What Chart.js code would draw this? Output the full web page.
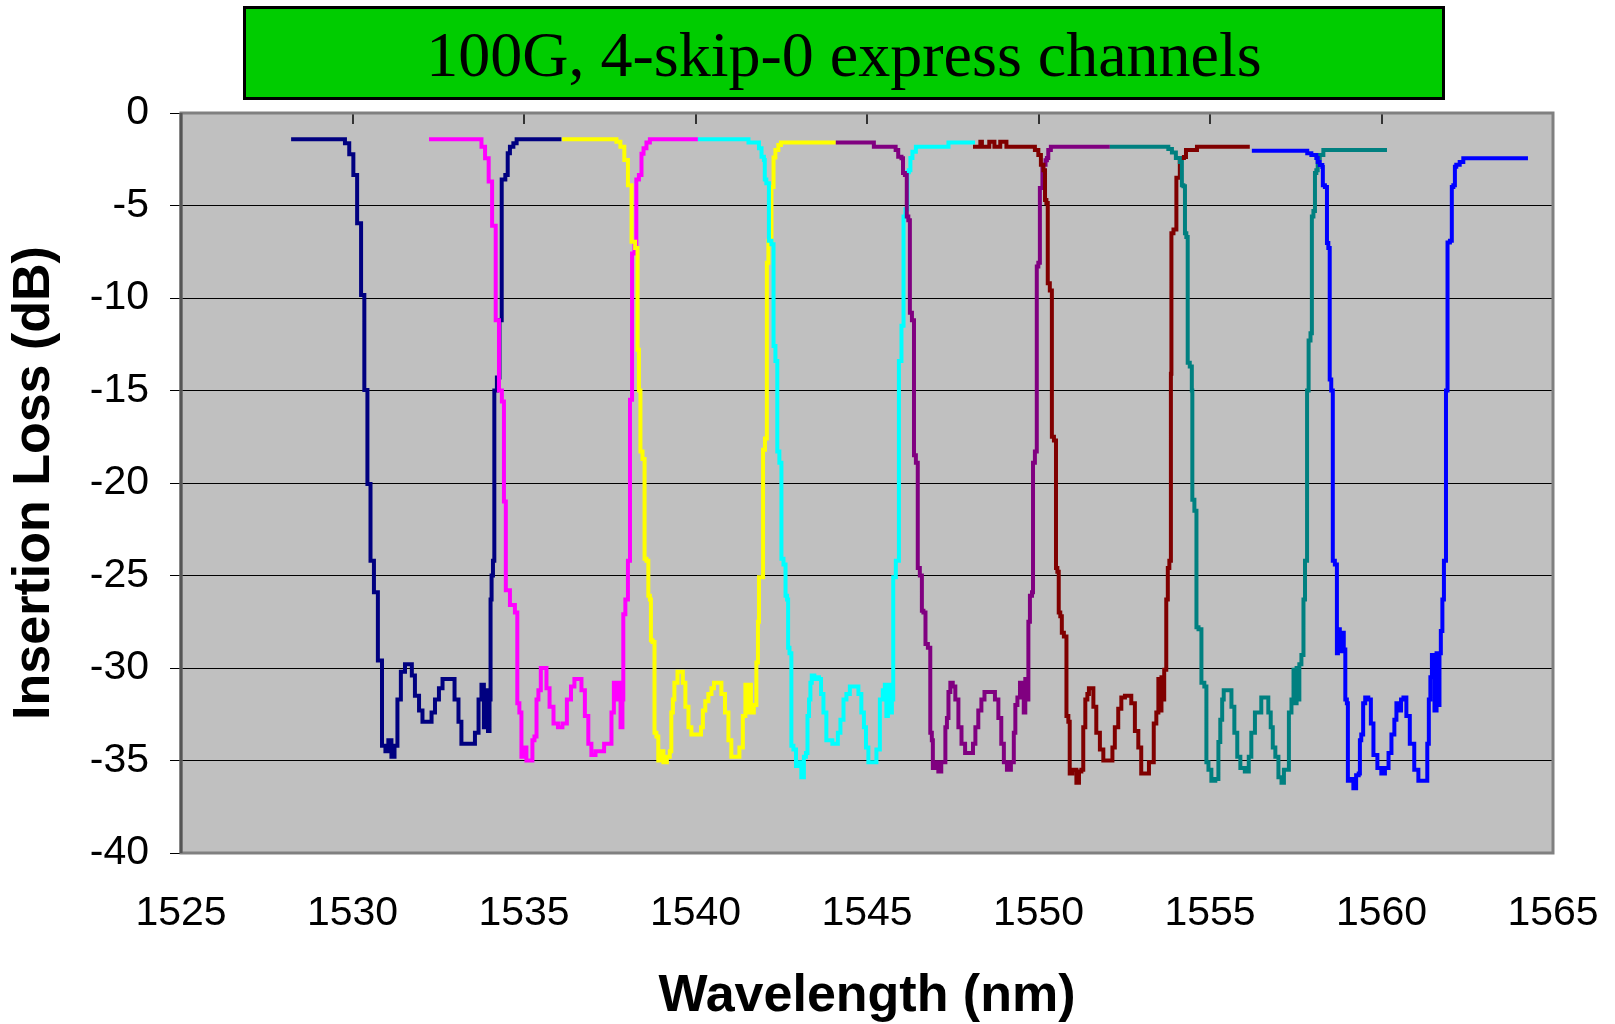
<!DOCTYPE html>
<html>
<head>
<meta charset="utf-8">
<script src="https://cdn.jsdelivr.net/npm/chart.js@4.4.1/dist/chart.umd.min.js"></script>
<style>
  body { margin: 0; background: #fff; }
  #wrap { position: relative; width: 1615px; height: 1024px; }
  #title {
    position: absolute; left: 243px; top: 6px; width: 1202px; height: 94px;
    box-sizing: border-box; border: 3px solid #000; background: #00cc00;
    font-family: "Liberation Serif", "Times New Roman", serif; font-size: 64px;
    display: flex; align-items: center; justify-content: center; padding-top: 4px;
    color: #000;
  }
</style>
</head>
<body>
<div id="wrap">
  <canvas id="chart" width="1615" height="1024"></canvas>
  <div id="title">100G, 4-skip-0 express channels</div>
</div>
<script>
// wavelength (nm), insertion loss (dB)
const navy = [
  [1528.21,-1.42],[1529.73,-1.42],[1529.83,-1.64],[1529.98,-2.23],[1530.07,-3.35],[1530.20,-5.96],
  [1530.30,-9.84],[1530.39,-14.97],[1530.48,-20.05],[1530.57,-24.2],[1530.68,-25.9],[1530.80,-29.6],
  [1530.92,-34.2],[1531.00,-34.5],[1531.09,-33.9],[1531.18,-34.8],[1531.27,-34.2],[1531.35,-31.7],
  [1531.47,-30.2],[1531.59,-29.8],[1531.70,-29.8],[1531.76,-30.4],[1531.88,-31.5],[1532.00,-32.3],
  [1532.08,-32.9],[1532.26,-32.9],[1532.35,-32.4],[1532.46,-31.7],[1532.58,-31.1],[1532.67,-30.6],
  [1532.90,-30.6],[1533.05,-31.7],[1533.13,-32.9],[1533.22,-34.1],[1533.51,-34.1],[1533.63,-33.5],
  [1533.72,-31.7],[1533.80,-30.9],[1533.86,-33.2],[1533.92,-31.2],[1533.98,-33.4],[1534.01,-31.7],
  [1534.04,-26.3],[1534.07,-25.0],[1534.12,-24.2],[1534.15,-15.0],[1534.27,-14.3],[1534.30,-11.2],
  [1534.40,-3.6],[1534.51,-3.35],[1534.54,-2.18],[1534.64,-1.82],[1534.74,-1.64],[1534.83,-1.42],
  [1536.09,-1.42]
];
const magenta = [
  [1532.23,-1.42],[1533.72,-1.42],[1533.80,-1.82],[1533.93,-2.45],[1534.01,-3.7],[1534.13,-6.1],
  [1534.22,-11.2],[1534.32,-15.0],[1534.39,-15.6],[1534.44,-21.0],[1534.50,-25.8],[1534.68,-26.6],
  [1534.79,-27.0],[1534.82,-31.9],[1534.91,-32.4],[1534.94,-34.8],[1535.03,-34.3],[1535.11,-35.0],
  [1535.23,-35.0],[1535.26,-33.9],[1535.35,-33.7],[1535.38,-31.7],[1535.46,-31.2],[1535.52,-30.0],
  [1535.61,-30.0],[1535.70,-31.1],[1535.79,-32.1],[1535.93,-33.0],[1536.05,-33.2],[1536.19,-33.0],
  [1536.31,-31.7],[1536.43,-31.0],[1536.51,-30.6],[1536.63,-30.6],[1536.72,-31.2],[1536.83,-32.6],
  [1536.92,-34.1],[1537.01,-34.7],[1537.16,-34.5],[1537.51,-34.1],[1537.59,-32.4],[1537.65,-30.8],
  [1537.71,-31.7],[1537.77,-30.8],[1537.86,-33.2],[1537.88,-31.7],[1537.91,-27.1],[1538.00,-26.3],
  [1538.06,-24.2],[1538.12,-15.5],[1538.18,-7.6],[1538.26,-7.1],[1538.29,-3.6],[1538.41,-3.35],
  [1538.44,-2.2],[1538.53,-1.9],[1538.61,-1.6],[1538.73,-1.42],[1540.07,-1.42]
];
const yellow = [
  [1536.11,-1.42],[1537.65,-1.42],[1537.74,-1.55],[1537.88,-1.82],[1537.97,-2.54],[1538.09,-3.9],
  [1538.18,-6.96],[1538.30,-7.3],[1538.32,-12.8],[1538.38,-15.0],[1538.41,-18.3],[1538.50,-18.7],
  [1538.53,-24.1],[1538.61,-24.2],[1538.64,-26.1],[1538.70,-26.3],[1538.70,-28.5],[1538.79,-28.6],
  [1538.82,-33.5],[1538.90,-33.7],[1538.93,-35.0],[1539.02,-34.5],[1539.11,-35.1],[1539.22,-34.8],
  [1539.28,-34.5],[1539.31,-32.4],[1539.37,-31.7],[1539.40,-30.8],[1539.46,-30.8],[1539.49,-30.2],
  [1539.60,-30.2],[1539.66,-30.8],[1539.75,-32.1],[1539.84,-33.2],[1539.92,-33.6],[1540.13,-33.6],
  [1540.19,-33.2],[1540.24,-32.3],[1540.33,-31.8],[1540.42,-31.4],[1540.51,-31.1],[1540.57,-30.8],
  [1540.71,-30.8],[1540.80,-31.4],[1540.92,-32.4],[1541.00,-33.9],[1541.09,-34.8],[1541.24,-34.8],
  [1541.32,-34.3],[1541.44,-32.6],[1541.47,-30.9],[1541.53,-32.4],[1541.59,-30.9],[1541.64,-32.4],
  [1541.76,-32.0],[1541.79,-29.7],[1541.85,-27.5],[1541.85,-25.1],[1541.97,-25.1],[1541.97,-18.2],
  [1542.08,-17.6],[1542.08,-8.1],[1542.17,-6.9],[1542.26,-4.0],[1542.29,-2.4],[1542.37,-2.0],
  [1542.46,-1.73],[1542.52,-1.6],[1544.09,-1.6]
];
const cyan = [
  [1540.07,-1.42],[1541.50,-1.42],[1541.59,-1.6],[1541.82,-1.6],[1541.88,-1.9],[1541.97,-2.36],
  [1542.02,-2.54],[1542.02,-3.6],[1542.11,-3.8],[1542.17,-6.9],[1542.26,-7.1],[1542.29,-12.6],
  [1542.37,-13.4],[1542.40,-18.3],[1542.49,-18.9],[1542.52,-24.1],[1542.61,-24.4],[1542.64,-26.1],
  [1542.70,-26.3],[1542.70,-28.9],[1542.78,-29.2],[1542.81,-34.2],[1542.90,-34.4],[1542.96,-35.3],
  [1543.04,-35.1],[1543.13,-35.9],[1543.19,-34.8],[1543.25,-34.6],[1543.28,-32.6],[1543.34,-31.7],
  [1543.36,-30.8],[1543.42,-30.4],[1543.51,-30.6],[1543.57,-30.5],[1543.63,-30.6],[1543.69,-31.4],
  [1543.77,-32.4],[1543.86,-33.9],[1544.12,-34.1],[1544.18,-33.5],[1544.27,-32.8],[1544.36,-31.7],
  [1544.44,-31.4],[1544.56,-31.0],[1544.71,-31.0],[1544.79,-31.4],[1544.88,-32.4],[1544.94,-33.2],
  [1545.00,-34.3],[1545.08,-35.1],[1545.23,-35.1],[1545.32,-34.4],[1545.43,-31.7],[1545.49,-31.2],
  [1545.55,-30.9],[1545.58,-32.6],[1545.64,-30.9],[1545.70,-32.4],[1545.75,-31.7],[1545.78,-25.1],
  [1545.90,-24.2],[1545.96,-13.4],[1546.05,-11.5],[1546.08,-5.6],[1546.16,-5.2],[1546.19,-3.2],
  [1546.25,-3.1],[1546.28,-2.43],[1546.37,-2.1],[1546.48,-1.82],[1547.36,-1.82],[1547.39,-1.6],
  [1548.15,-1.6]
];
const purple = [
  [1544.09,-1.6],[1545.17,-1.6],[1545.23,-1.82],[1545.81,-1.82],[1545.86,-2.0],[1545.96,-2.36],
  [1546.05,-2.45],[1546.05,-3.24],[1546.16,-3.35],[1546.16,-5.6],[1546.25,-5.8],[1546.25,-10.8],
  [1546.37,-11.2],[1546.37,-18.5],[1546.48,-18.9],[1546.48,-24.6],[1546.60,-25.0],[1546.60,-26.9],
  [1546.69,-27.0],[1546.72,-28.7],[1546.83,-28.9],[1546.86,-33.5],[1546.92,-33.9],[1546.92,-35.4],
  [1547.04,-35.1],[1547.12,-35.6],[1547.21,-35.1],[1547.27,-35.1],[1547.30,-33.2],[1547.36,-32.7],
  [1547.39,-31.3],[1547.47,-30.8],[1547.53,-31.0],[1547.62,-31.7],[1547.71,-33.2],[1547.80,-34.1],
  [1547.92,-34.6],[1548.06,-34.6],[1548.12,-34.1],[1548.20,-33.2],[1548.29,-32.3],[1548.38,-31.7],
  [1548.47,-31.3],[1548.67,-31.3],[1548.79,-31.7],[1548.87,-32.7],[1548.96,-34.1],[1549.02,-35.1],
  [1549.14,-35.5],[1549.25,-35.1],[1549.31,-33.5],[1549.34,-32.0],[1549.43,-31.6],[1549.49,-30.8],
  [1549.54,-31.2],[1549.60,-32.4],[1549.63,-30.6],[1549.69,-31.7],[1549.72,-27.5],[1549.78,-26.1],
  [1549.84,-25.9],[1549.84,-18.9],[1549.95,-18.3],[1549.95,-8.3],[1550.04,-8.1],[1550.04,-4.05],
  [1550.19,-2.8],[1550.22,-2.55],[1550.27,-2.43],[1550.30,-2.0],[1550.42,-1.82],[1552.08,-1.82]
];
const darkRed = [
  [1548.09,-1.82],[1548.29,-1.82],[1548.32,-1.55],[1548.38,-1.82],[1548.55,-1.82],[1548.58,-1.55],
  [1548.70,-1.55],[1548.73,-1.82],[1548.87,-1.82],[1548.90,-1.55],[1549.05,-1.55],[1549.08,-1.82],
  [1549.84,-1.82],[1549.95,-2.0],[1550.04,-2.27],[1550.10,-2.8],[1550.19,-3.1],[1550.19,-4.7],
  [1550.27,-4.86],[1550.27,-9.2],[1550.39,-9.6],[1550.39,-17.5],[1550.51,-17.7],[1550.51,-24.6],
  [1550.59,-24.8],[1550.59,-27.0],[1550.68,-27.2],[1550.68,-28.1],[1550.80,-28.3],[1550.83,-32.6],
  [1550.91,-32.9],[1550.91,-35.7],[1551.06,-35.5],[1551.15,-36.2],[1551.21,-35.6],[1551.29,-35.5],
  [1551.32,-33.2],[1551.41,-31.7],[1551.44,-31.4],[1551.50,-31.1],[1551.56,-31.1],[1551.64,-32.1],
  [1551.73,-33.5],[1551.85,-34.4],[1551.93,-35.0],[1552.14,-35.0],[1552.17,-34.3],[1552.28,-33.2],
  [1552.37,-32.2],[1552.46,-31.6],[1552.58,-31.5],[1552.66,-31.5],[1552.75,-31.9],[1552.87,-33.4],
  [1552.95,-34.3],[1553.04,-35.7],[1553.19,-35.7],[1553.25,-35.1],[1553.33,-35.1],[1553.39,-33.0],
  [1553.48,-32.4],[1553.51,-30.6],[1553.57,-32.3],[1553.60,-30.5],[1553.65,-31.7],[1553.68,-30.1],
  [1553.77,-26.3],[1553.77,-24.6],[1553.86,-24.2],[1553.86,-14.1],[1553.89,-6.5],[1553.98,-6.3],
  [1554.06,-3.5],[1554.18,-2.43],[1554.30,-2.38],[1554.30,-2.0],[1554.62,-2.0],[1554.62,-1.82],
  [1556.16,-1.82]
];
const teal = [
  [1552.08,-1.82],[1553.74,-1.82],[1553.83,-1.95],[1553.95,-2.14],[1554.06,-2.43],[1554.18,-2.65],
  [1554.18,-3.9],[1554.27,-3.96],[1554.27,-6.5],[1554.35,-6.7],[1554.35,-13.5],[1554.47,-13.7],
  [1554.47,-15.0],[1554.50,-20.9],[1554.59,-21.5],[1554.62,-27.8],[1554.71,-27.9],[1554.79,-30.8],
  [1554.88,-31.0],[1554.91,-35.1],[1555.00,-35.5],[1555.08,-36.1],[1555.23,-36.0],[1555.26,-34.0],
  [1555.34,-32.8],[1555.37,-31.7],[1555.43,-31.2],[1555.58,-31.2],[1555.67,-32.1],[1555.75,-33.5],
  [1555.84,-34.8],[1555.93,-35.4],[1556.10,-35.6],[1556.16,-34.8],[1556.25,-33.5],[1556.37,-32.4],
  [1556.48,-32.4],[1556.51,-31.6],[1556.66,-31.6],[1556.74,-32.4],[1556.80,-33.2],[1556.86,-34.3],
  [1556.95,-34.8],[1557.04,-35.9],[1557.13,-36.2],[1557.18,-35.5],[1557.27,-35.5],[1557.33,-32.4],
  [1557.42,-31.7],[1557.45,-30.1],[1557.51,-31.9],[1557.54,-30.0],[1557.59,-31.7],[1557.62,-29.8],
  [1557.71,-29.3],[1557.74,-26.3],[1557.80,-24.2],[1557.86,-15.0],[1557.89,-12.3],[1557.97,-11.9],
  [1557.97,-5.6],[1558.06,-5.3],[1558.06,-3.24],[1558.14,-3.1],[1558.14,-2.43],[1558.26,-2.27],
  [1558.35,-2.0],[1560.16,-2.0]
];
const blue = [
  [1556.22,-2.04],[1557.82,-2.04],[1557.85,-2.18],[1558.06,-2.27],[1558.14,-2.43],[1558.14,-2.65],
  [1558.26,-2.81],[1558.29,-2.92],[1558.29,-3.9],[1558.41,-4.0],[1558.41,-7.03],[1558.49,-7.3],
  [1558.49,-14.4],[1558.58,-15.0],[1558.58,-24.2],[1558.70,-24.4],[1558.70,-29.2],[1558.76,-27.9],
  [1558.81,-29.1],[1558.87,-28.1],[1558.93,-29.0],[1558.96,-31.7],[1559.02,-31.9],[1559.02,-36.1],
  [1559.14,-36.0],[1559.22,-36.5],[1559.30,-35.8],[1559.37,-35.7],[1559.37,-33.9],[1559.45,-33.6],
  [1559.48,-31.9],[1559.57,-31.6],[1559.66,-31.7],[1559.72,-33.0],[1559.81,-34.7],[1559.95,-35.4],
  [1560.04,-35.7],[1560.16,-35.4],[1560.25,-34.6],[1560.33,-33.6],[1560.42,-32.8],[1560.45,-31.9],
  [1560.54,-32.3],[1560.60,-31.7],[1560.68,-31.6],[1560.77,-32.6],[1560.88,-34.1],[1561.03,-35.5],
  [1561.12,-36.1],[1561.32,-36.1],[1561.35,-34.1],[1561.41,-31.7],[1561.44,-30.5],[1561.50,-29.3],
  [1561.59,-32.3],[1561.62,-29.2],[1561.68,-32.0],[1561.70,-29.2],[1561.76,-28.0],[1561.79,-26.3],
  [1561.85,-24.2],[1561.91,-15.0],[1561.94,-7.0],[1562.05,-6.9],[1562.05,-4.0],[1562.14,-3.9],
  [1562.14,-2.9],[1562.22,-2.8],[1562.34,-2.65],[1562.43,-2.45],[1564.27,-2.45]
];

const series = [navy, magenta, yellow, cyan, purple, darkRed, teal, blue];
const colors = ['#000080', '#ff00ff', '#ffff00', '#00ffff', '#800080', '#800000', '#008080', '#0000ff'];

const axisFont = { family: '"Liberation Sans", Arial, sans-serif', size: 41 };
const titleFont = { family: '"Liberation Sans", Arial, sans-serif', size: 52, weight: 'bold', lineHeight: 1 };

// gray plot area, its frame, and the short x ticks hanging from the top edge
const plotFrame = {
  id: 'plotFrame',
  beforeDraw(chart) {
    const { ctx, chartArea: a } = chart;
    ctx.save();
    ctx.fillStyle = '#c0c0c0';
    ctx.fillRect(a.left, a.top, a.right - a.left, a.bottom - a.top);
    ctx.restore();
  },
  afterDraw(chart) {
    const { ctx, chartArea: a } = chart;
    const x = chart.scales.x;
    ctx.save();
    ctx.strokeStyle = '#333';
    ctx.lineWidth = 2;
    x.ticks.forEach(t => {
      const px = Math.round(x.getPixelForValue(t.value));
      ctx.beginPath();
      ctx.moveTo(px, a.top);
      ctx.lineTo(px, a.top + 11);
      ctx.stroke();
    });
    ctx.strokeStyle = '#808080';
    ctx.lineWidth = 3;
    ctx.strokeRect(a.left, a.top, a.right - a.left, a.bottom - a.top);
    ctx.strokeStyle = '#555';
    ctx.beginPath();
    ctx.moveTo(a.left, a.top);
    ctx.lineTo(a.left, a.bottom);
    ctx.stroke();
    ctx.restore();
  }
};

new Chart(document.getElementById('chart'), {
  type: 'line',
  data: {
    datasets: series.map((s, i) => ({
      data: s.map(([x, y]) => ({ x, y })),
      borderColor: colors[i],
      borderWidth: 4,
      pointRadius: 0,
      stepped: 'middle',
      fill: false,
      order: series.length - i
    }))
  },
  options: {
    responsive: false,
    animation: false,
    layout: { padding: { top: 113, right: 62, left: 0, bottom: 0 } },
    plugins: { legend: { display: false }, tooltip: { enabled: false } },
    scales: {
      x: {
        type: 'linear', min: 1525, max: 1565,
        ticks: { stepSize: 5, autoSkip: false, maxRotation: 0, padding: 36, color: '#000', font: axisFont, callback: v => String(v) },
        grid: { display: false, drawTicks: false },
        border: { display: false },
        title: { display: true, text: 'Wavelength (nm)', color: '#000', font: titleFont, padding: { top: 0, bottom: 1 } },
        afterFit: s => { s.height = 171; s.paddingLeft = 0; s.paddingRight = 0; }
      },
      y: {
        type: 'linear', min: -40, max: 0,
        ticks: { stepSize: 5, padding: 21, color: '#000', font: axisFont, callback: v => String(v) },
        grid: { color: '#000', lineWidth: 1, tickLength: 11, tickColor: '#000' },
        border: { display: false },
        title: { display: true, text: 'Insertion Loss (dB)', color: '#000', font: titleFont, padding: { top: 9, bottom: 0 } },
        afterFit: s => { s.width = 181; s.paddingTop = 0; s.paddingBottom = 0; }
      }
    }
  },
  plugins: [plotFrame]
});
</script>
</body>
</html>
